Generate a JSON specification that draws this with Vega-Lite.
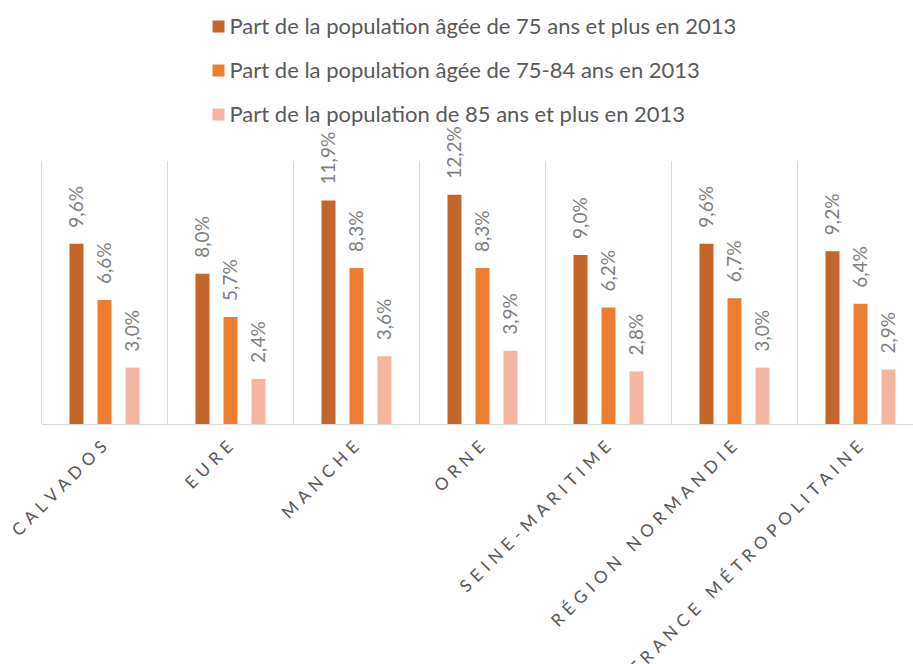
{
  "$schema": "https://vega.github.io/schema/vega-lite/v6.json",
  "autosize": "none",
  "padding": {"left": 41.5, "top": 161, "right": 0, "bottom": 240},
  "width": 871.5,
  "height": 263,
  "background": "white",
  "config": {
    "view": {"stroke": null},
    "font": "Lato",
    "locale": {"number": {"decimal": ",", "thousands": " ", "grouping": [3], "currency": ["", " €"]}}
  },
  "data": {"values": [
    {"c": "CALVADOS", "s": "Part de la population âgée de 75 ans et plus en 2013", "v": 0.096},
    {"c": "CALVADOS", "s": "Part de la population âgée de 75-84 ans en 2013", "v": 0.066},
    {"c": "CALVADOS", "s": "Part de la population de 85 ans et plus en 2013", "v": 0.030},
    {"c": "EURE", "s": "Part de la population âgée de 75 ans et plus en 2013", "v": 0.080},
    {"c": "EURE", "s": "Part de la population âgée de 75-84 ans en 2013", "v": 0.057},
    {"c": "EURE", "s": "Part de la population de 85 ans et plus en 2013", "v": 0.024},
    {"c": "MANCHE", "s": "Part de la population âgée de 75 ans et plus en 2013", "v": 0.119},
    {"c": "MANCHE", "s": "Part de la population âgée de 75-84 ans en 2013", "v": 0.083},
    {"c": "MANCHE", "s": "Part de la population de 85 ans et plus en 2013", "v": 0.036},
    {"c": "ORNE", "s": "Part de la population âgée de 75 ans et plus en 2013", "v": 0.122},
    {"c": "ORNE", "s": "Part de la population âgée de 75-84 ans en 2013", "v": 0.083},
    {"c": "ORNE", "s": "Part de la population de 85 ans et plus en 2013", "v": 0.039},
    {"c": "SEINE-MARITIME", "s": "Part de la population âgée de 75 ans et plus en 2013", "v": 0.090},
    {"c": "SEINE-MARITIME", "s": "Part de la population âgée de 75-84 ans en 2013", "v": 0.062},
    {"c": "SEINE-MARITIME", "s": "Part de la population de 85 ans et plus en 2013", "v": 0.028},
    {"c": "RÉGION NORMANDIE", "s": "Part de la population âgée de 75 ans et plus en 2013", "v": 0.096},
    {"c": "RÉGION NORMANDIE", "s": "Part de la population âgée de 75-84 ans en 2013", "v": 0.067},
    {"c": "RÉGION NORMANDIE", "s": "Part de la population de 85 ans et plus en 2013", "v": 0.030},
    {"c": "FRANCE MÉTROPOLITAINE", "s": "Part de la population âgée de 75 ans et plus en 2013", "v": 0.092},
    {"c": "FRANCE MÉTROPOLITAINE", "s": "Part de la population âgée de 75-84 ans en 2013", "v": 0.064},
    {"c": "FRANCE MÉTROPOLITAINE", "s": "Part de la population de 85 ans et plus en 2013", "v": 0.029}
  ]},
  "layer": [
    {
      "transform": [{"filter": "datum.s === 'Part de la population âgée de 75 ans et plus en 2013'"}],
      "mark": {"type": "rule", "color": "#D9D9D9", "strokeWidth": 1},
      "encoding": {
        "x": {"field": "c", "type": "nominal", "bandPosition": 0,
              "sort": ["CALVADOS", "EURE", "MANCHE", "ORNE", "SEINE-MARITIME", "RÉGION NORMANDIE", "FRANCE MÉTROPOLITAINE"]}
      }
    },
    {
      "mark": {"type": "bar"},
      "encoding": {
        "x": {"field": "c", "type": "nominal",
              "sort": ["CALVADOS", "EURE", "MANCHE", "ORNE", "SEINE-MARITIME", "RÉGION NORMANDIE", "FRANCE MÉTROPOLITAINE"],
              "scale": {"range": [0, 882], "paddingInner": 0, "paddingOuter": 0},
              "axis": {"title": null, "labelAngle": -45, "labelAlign": "right", "labelBaseline": "middle",
                       "labelPadding": 20, "labelFontSize": 17, "labelColor": "#595959", "labelFont": "Lato",
                       "labelLimit": 600, "ticks": false, "grid": false, "domainColor": "#D9D9D9", "domainWidth": 1,
                       "labelExpr": "join(split(datum.label, ''), '\u00a0\u200a')"}},
        "xOffset": {"field": "s", "type": "nominal",
                    "sort": ["Part de la population âgée de 75 ans et plus en 2013", "Part de la population âgée de 75-84 ans en 2013", "Part de la population de 85 ans et plus en 2013"],
                    "scale": {"paddingInner": 0.5, "paddingOuter": 1.17}},
        "y": {"field": "v", "type": "quantitative", "scale": {"domain": [0, 0.14], "nice": false}, "axis": null},
        "color": {"field": "s", "type": "nominal",
                  "scale": {"domain": ["Part de la population âgée de 75 ans et plus en 2013", "Part de la population âgée de 75-84 ans en 2013", "Part de la population de 85 ans et plus en 2013"],
                            "range": ["#C4652A", "#ED7D31", "#F4B6A0"]},
                  "legend": {"title": null, "orient": "none", "legendX": 166, "legendY": -145.5, "direction": "vertical",
                             "symbolType": "square", "symbolSize": 144, "symbolStrokeWidth": 0, "symbolOpacity": 1,
                             "labelFontSize": 22, "labelFont": "Lato", "labelColor": "#595959", "labelLimit": 700,
                             "labelOffset": 0, "rowPadding": 22}}
      }
    },
    {
      "mark": {"type": "text", "angle": 270, "align": "left", "baseline": "middle", "dx": 16, "fontSize": 19, "color": "#7F7F7F", "font": "Lato"},
      "encoding": {
        "x": {"field": "c", "type": "nominal",
              "sort": ["CALVADOS", "EURE", "MANCHE", "ORNE", "SEINE-MARITIME", "RÉGION NORMANDIE", "FRANCE MÉTROPOLITAINE"]},
        "xOffset": {"field": "s", "type": "nominal",
                    "sort": ["Part de la population âgée de 75 ans et plus en 2013", "Part de la population âgée de 75-84 ans en 2013", "Part de la population de 85 ans et plus en 2013"]},
        "y": {"field": "v", "type": "quantitative"},
        "text": {"field": "v", "type": "quantitative", "format": ".1%"}
      }
    }
  ]
}
